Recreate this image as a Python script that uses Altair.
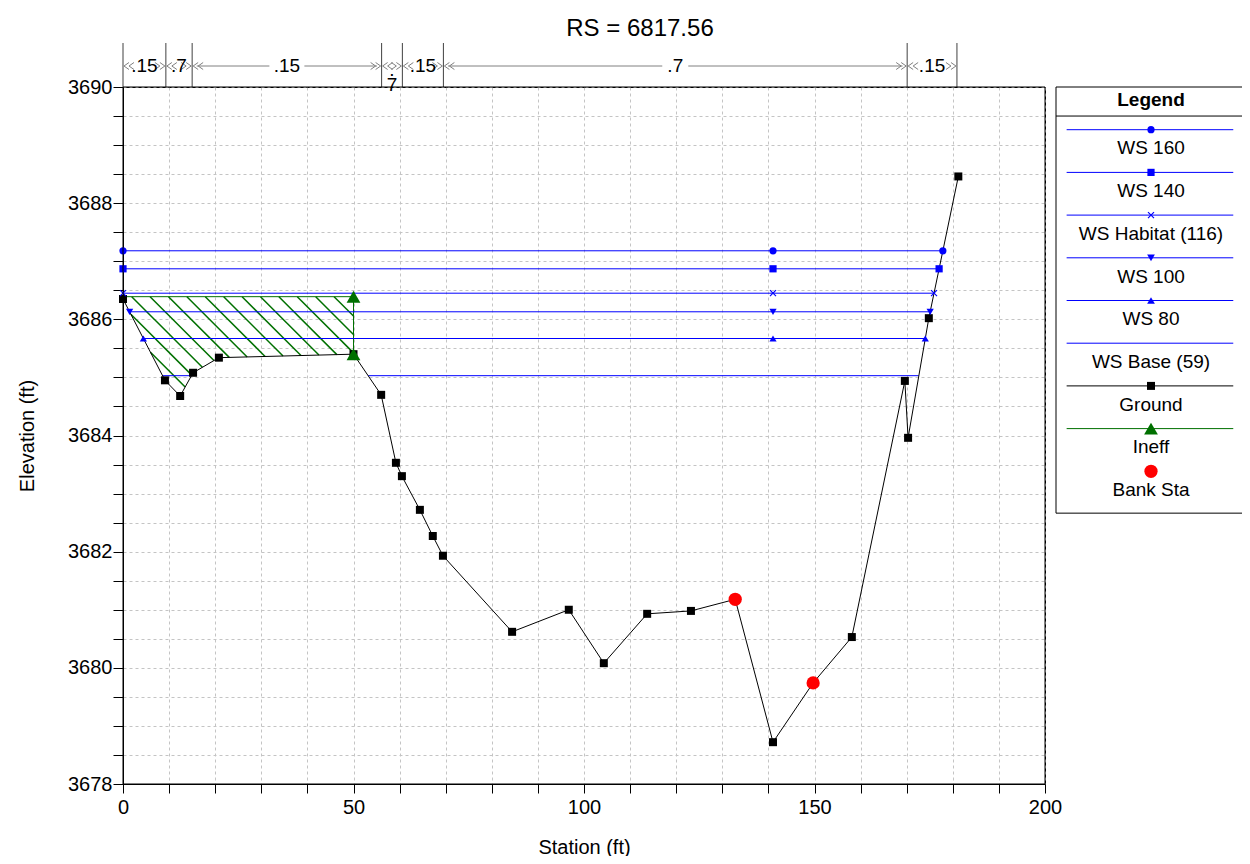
import altair as alt
import numpy as np
import pandas as pd

TITLE = "RS = 6817.56"
FONT = "Liberation Sans"

# ---------------- data ----------------
ground_sta = [0.0, 9.1, 12.4, 15.2, 20.8, 50.0, 56.0, 59.2, 60.5, 64.4, 67.2, 69.4,
              84.4, 96.7, 104.3, 113.7, 123.2, 132.8, 141.0, 149.7, 158.1, 169.6,
              170.3, 174.8, 181.2]
ground_elev = [3686.35, 3684.95, 3684.68, 3685.08, 3685.34, 3685.40, 3684.70, 3683.53,
               3683.30, 3682.72, 3682.27, 3681.93, 3680.62, 3681.00, 3680.08, 3680.93,
               3680.98, 3681.18, 3678.72, 3679.74, 3680.53, 3684.94, 3683.96, 3686.02,
               3688.46]

bank_sta = [132.8, 149.7]
bank_elev = [3681.18, 3679.74]

ineff_sta = 50.0
ineff_elev = 3686.39
ineff_ground = 3685.40

ws_names = ["WS 160", "WS 140", "WS Habitat (116)", "WS 100", "WS 80", "WS Base (59)"]
ws_elev = [3687.18, 3686.87, 3686.45, 3686.13, 3685.67, 3685.03]
ws_segments = [
    [(0.0, 177.84)],
    [(0.0, 177.03)],
    [(0.0, 175.93)],
    [(1.43, 175.09)],
    [(4.42, 174.03)],
    [(8.6, 14.85), (53.2, 172.6)],
]
ws_mid_sta = 141.0
ws_shapes = ["circle", "square", "x", "triangle-down", "triangle-up", None]

n_bounds = [0.0, 9.3, 15.0, 56.1, 60.6, 69.5, 170.1, 180.9]
n_values = [".15", ".7", ".15", ".7", ".15", ".7", ".15"]

x_ticks = list(range(0, 201, 10))
y_ticks = [3678 + 0.5 * i for i in range(25)]

legend_labels = ["WS 160", "WS 140", "WS Habitat (116)", "WS 100", "WS 80",
                 "WS Base (59)", "Ground", "Ineff", "Bank Sta"]

# ---------------- styling constants ----------------
W, H = 922, 697
X_DOM = [0, 200]
Y_DOM = [3678, 3690]
PX_X = W / (X_DOM[1] - X_DOM[0])
PX_Y = H / (Y_DOM[1] - Y_DOM[0])
BLUE = "#0000ff"
GREEN = "#007000"
N_TOP = Y_DOM[1] + 44 / PX_Y       # top of n-value separators
N_ARROW = Y_DOM[1] + 21 / PX_Y     # level of n-value arrows
X_PATH = "M-1,-1L1,1M-1,1L1,-1"
CHEV_L = "M0,-0.7L-1,0L0,0.7M1,-0.7L0,0L1,0.7"
CHEV_R = "M0,-0.7L1,0L0,0.7M-1,-0.7L0,0L-1,0.7"

xs = alt.Scale(domain=X_DOM, nice=False, zero=False)
ys = alt.Scale(domain=Y_DOM, nice=False, zero=False)
x_axis = alt.Axis(values=x_ticks, tickCount=len(x_ticks), tickMinStep=1,
                  labelExpr="datum.value % 50 === 0 ? format(datum.value, 'd') : ''",
                  tickSize=9, labelPadding=4, titlePadding=20, labelOverlap=False,
                  labelFlush=False, labelBound=False, grid=True)
y_axis = alt.Axis(values=y_ticks, tickCount=len(y_ticks), tickMinStep=0.1,
                  labelExpr="datum.value % 2 === 0 ? format(datum.value, 'd') : ''",
                  tickSize=10, labelPadding=1, titlePadding=30, labelOverlap=False,
                  labelFlush=False, labelBound=False, grid=True)
X = alt.X("sta:Q", scale=xs, axis=x_axis, title="Station (ft)")
Y = alt.Y("elev:Q", scale=ys, axis=y_axis, title="Elevation (ft)")

# ---------------- tables ----------------
ground_df = pd.DataFrame({"sta": ground_sta, "elev": ground_elev})
bank_df = pd.DataFrame({"sta": bank_sta, "elev": bank_elev})
ineff_pts = pd.DataFrame({"sta": [ineff_sta, ineff_sta], "elev": [ineff_elev, ineff_ground]})
ineff_line = pd.DataFrame({"sta": [0.0, ineff_sta, ineff_sta],
                           "elev": [ineff_elev, ineff_elev, ineff_ground], "ord": [0, 1, 2]})

rows, mrows = [], []
for name, el, segs, shp in zip(ws_names, ws_elev, ws_segments, ws_shapes):
    for k, (a, b) in enumerate(segs):
        rows.append({"name": name, "seg": f"{name}-{k}", "sta": a, "elev": el, "ord": 0})
        rows.append({"name": name, "seg": f"{name}-{k}", "sta": b, "elev": el, "ord": 1})
    if shp:
        for s in (segs[0][0], ws_mid_sta, segs[-1][1]):
            mrows.append({"name": name, "sta": s, "elev": el, "shape": shp})
ws_df = pd.DataFrame(rows)
wsm_df = pd.DataFrame(mrows)

# hatch of the ineffective-flow area (clipped to the area between the
# ineffective elevation and the ground)
poly = [(0.0, ineff_elev), (ineff_sta, ineff_elev)] + \
    list(reversed([(s, e) for s, e in zip(ground_sta, ground_elev) if s <= ineff_sta]))
pp = [(s * PX_X, (Y_DOM[1] - e) * PX_Y) for s, e in poly]
step = 18.4
c0 = 8.7 - (Y_DOM[1] - ineff_elev) * PX_Y
g = [px - py for px, py in pp]
kmin = int(np.floor((min(g) - c0) / step)) - 1
kmax = int(np.ceil((max(g) - c0) / step)) + 1
hrows = []
for k in range(kmin, kmax + 1):
    c = c0 + k * step
    pts = []
    for i in range(len(pp)):
        (x1, y1), (x2, y2) = pp[i], pp[(i + 1) % len(pp)]
        f1, f2 = x1 - y1 - c, x2 - y2 - c
        if (f1 > 0) != (f2 > 0) and f1 != f2:
            t = f1 / (f1 - f2)
            pts.append((x1 + t * (x2 - x1), y1 + t * (y2 - y1)))
    pts.sort()
    for j in range(0, len(pts) - 1, 2):
        (ax, ay), (bx, by) = pts[j], pts[j + 1]
        hrows.append({"sta": ax / PX_X, "elev": Y_DOM[1] - ay / PX_Y,
                      "sta2": bx / PX_X, "elev2": Y_DOM[1] - by / PX_Y})
hatch_df = pd.DataFrame(hrows)

# n-value annotations
nb_df = pd.DataFrame({"sta": n_bounds, "elev": [Y_DOM[1]] * len(n_bounds),
                      "elev2": [N_TOP] * len(n_bounds)})
arows, crows, trows, tw_rows = [], [], [], []
for a, b, lab in zip(n_bounds[:-1], n_bounds[1:], n_values):
    mid = (a + b) / 2
    half = (len(lab) * 9 + 8) / 2 / PX_X
    if mid - half - a > 2.5:
        arows.append({"sta": a + 1.0, "sta2": mid - half, "elev": N_ARROW})
        arows.append({"sta": mid + half, "sta2": b - 1.0, "elev": N_ARROW})
    crows.append({"sta": a + 1.3, "elev": N_ARROW, "shape": CHEV_L})
    crows.append({"sta": b - 1.3, "elev": N_ARROW, "shape": CHEV_R})
    if (b - a) * PX_X < 26:
        tw_rows.append({"sta": mid, "elev": N_ARROW, "lab": lab[0] + "\n" + lab[1:]})
    else:
        trows.append({"sta": mid, "elev": N_ARROW, "lab": lab})
arrow_df = pd.DataFrame(arows)
chev_df = pd.DataFrame(crows)
ntext_df = pd.DataFrame(trows)
nwrap_df = pd.DataFrame(tw_rows)

# ---------------- main plot layers ----------------
hatch = alt.Chart(hatch_df).mark_rule(color=GREEN, strokeWidth=1.5).encode(
    x=X, y=Y, x2="sta2:Q", y2="elev2:Q")
ineff_outline = alt.Chart(ineff_line).mark_line(color=GREEN, strokeWidth=1).encode(
    x=X, y=Y, order="ord:Q")
ws_lines = alt.Chart(ws_df).mark_line(color=BLUE, strokeWidth=1).encode(
    x=X, y=Y, detail="seg:N", order="ord:Q")
ground_line = alt.Chart(ground_df).mark_line(color="black", strokeWidth=1).encode(x=X, y=Y)
ground_pts = alt.Chart(ground_df).mark_point(shape="square", filled=True, color="black",
                                             size=64, opacity=1).encode(x=X, y=Y)
ws_pts = alt.Chart(wsm_df[wsm_df["shape"] != "x"]).mark_point(
    filled=True, color=BLUE, size=52, opacity=1).encode(
    x=X, y=Y, shape=alt.Shape("shape:N", scale=None, legend=None))
ws_x = alt.Chart(wsm_df[wsm_df["shape"] == "x"]).mark_point(
    shape=X_PATH, filled=False, color=BLUE, size=36, strokeWidth=1.2, opacity=1).encode(x=X, y=Y)
ineff_tri = alt.Chart(ineff_pts).mark_point(shape="triangle-up", filled=True, color=GREEN,
                                            size=190, opacity=1).encode(x=X, y=Y)
bank = alt.Chart(bank_df).mark_point(shape="circle", filled=True, color="#ff0000",
                                     size=175, opacity=1).encode(x=X, y=Y)
n_sep = alt.Chart(nb_df).mark_rule(color="#404040", strokeWidth=1, clip=False).encode(
    x=X, y=Y, y2="elev2:Q")
n_arrow = alt.Chart(arrow_df).mark_rule(color="#808080", strokeWidth=1, clip=False).encode(
    x=X, x2="sta2:Q", y=Y)
n_chev = alt.Chart(chev_df).mark_point(filled=False, color="#808080", size=100, strokeWidth=1,
                                       opacity=1, clip=False).encode(
    x=X, y=Y, shape=alt.Shape("shape:N", scale=None, legend=None))
n_text = alt.Chart(ntext_df).mark_text(font=FONT, fontSize=19, color="black",
                                       baseline="middle", clip=False).encode(
    x=X, y=Y, text="lab:N")
n_wrap = alt.Chart(nwrap_df).mark_text(font=FONT, fontSize=19, color="black", lineBreak="\n",
                                       baseline="middle", dy=4, lineHeight=15, clip=False).encode(
    x=X, y=Y, text="lab:N")
frame = alt.Chart(pd.DataFrame({"sta": [X_DOM[0]], "sta2": [X_DOM[1]],
                                "elev": [Y_DOM[0]], "elev2": [Y_DOM[1]]})).mark_rect(
    fill=None, fillOpacity=0, stroke="black", strokeWidth=1, clip=False).encode(
    x=X, x2="sta2:Q", y=Y, y2="elev2:Q")

main = alt.layer(hatch, ineff_outline, ws_lines, ground_line, ground_pts, ws_pts, ws_x,
                 ineff_tri, bank, n_sep, n_arrow, n_chev, n_text, n_wrap, frame)

# ---------------- legend panel ----------------
LX = alt.Scale(domain=[0, 1], range=[933, 1123])
LY = alt.Scale(domain=[0, 10], range=[0, 427])
lx = alt.X("lx:Q", scale=LX, axis=None)
ly = alt.Y("ly:Q", scale=LY, axis=None)

line_cols = [BLUE] * 6 + ["black", GREEN, None]
mark_shapes = ["circle", "square", "x", "triangle-down", "triangle-up", None,
               "square", "triangle-up", "circle"]
mark_cols = [BLUE] * 6 + ["black", GREEN, "#ff0000"]
mark_sizes = [52, 52, 36, 60, 60, 0, 64, 190, 175]

leg = pd.DataFrame({
    "label": legend_labels,
    "ly": [i + 1.0 for i in range(len(legend_labels))],
    "lyt": [i + 1.44 for i in range(len(legend_labels))],
    "lcol": line_cols, "shape": mark_shapes, "mcol": mark_cols, "msize": mark_sizes,
})
leg["lx"], leg["lx2"], leg["lxc"] = 0.056, 0.933, 0.5

box = alt.Chart(pd.DataFrame({"lx": [0.0], "lx2": [1.0], "ly": [0.0], "ly2": [9.98]})).mark_rect(
    fill="white", stroke="black", strokeWidth=1, clip=False).encode(x=lx, x2="lx2:Q", y=ly, y2="ly2:Q")
sep = alt.Chart(pd.DataFrame({"lx": [0.0], "lx2": [1.0], "ly": [0.68]})).mark_rule(
    color="black", strokeWidth=1, clip=False).encode(x=lx, x2="lx2:Q", y=ly)
head = alt.Chart(pd.DataFrame({"lx": [0.5], "ly": [0.31], "t": ["Legend"]})).mark_text(
    font=FONT, fontSize=19, fontWeight="bold", color="black", baseline="middle", clip=False).encode(
    x=lx, y=ly, text="t:N")
leg_lines = alt.Chart(leg[leg["lcol"].notna()]).mark_rule(strokeWidth=1, clip=False).encode(
    x=lx, x2="lx2:Q", y=ly, color=alt.Color("lcol:N", scale=None, legend=None))
leg_pts = alt.Chart(leg[leg["shape"].notna() & (leg["shape"] != "x")]).mark_point(
    filled=True, opacity=1, clip=False).encode(
    x=alt.X("lxc:Q", scale=LX, axis=None), y=ly,
    shape=alt.Shape("shape:N", scale=None, legend=None),
    color=alt.Color("mcol:N", scale=None, legend=None),
    size=alt.Size("msize:Q", scale=None, legend=None))
leg_x = alt.Chart(leg[leg["shape"] == "x"]).mark_point(
    shape=X_PATH, filled=False, color=BLUE, size=36, strokeWidth=1.2, opacity=1, clip=False).encode(
    x=alt.X("lxc:Q", scale=LX, axis=None), y=ly)
leg_text = alt.Chart(leg).mark_text(font=FONT, fontSize=19, color="black", baseline="middle",
                                    clip=False).encode(
    x=alt.X("lxc:Q", scale=LX, axis=None), y=alt.Y("lyt:Q", scale=LY, axis=None), text="label:N")

legend = alt.layer(box, sep, head, leg_lines, leg_pts, leg_x, leg_text)

chart = alt.layer(main, legend).resolve_scale(x="independent", y="independent").properties(
    width=W, height=H,
    autosize=alt.AutoSizeParams(type="none"),
    padding={"left": 115, "top": 79, "right": 197, "bottom": 72},
    title=alt.Title(TITLE, font=FONT, fontSize=24, fontWeight="normal", color="black",
                    anchor="middle", frame="group", dx=56, offset=2),
).configure_view(stroke="black", strokeWidth=1).configure_axis(
    labelFont=FONT, titleFont=FONT, labelFontSize=20, titleFontSize=20,
    titleFontWeight="normal", labelColor="black", titleColor="black",
    domainColor="black", tickColor="black", gridColor="#c4c4c4", gridDash=[3, 3],
    gridWidth=1,
)

chart.save("out.html", embed_options={"renderer": "svg", "actions": False})
